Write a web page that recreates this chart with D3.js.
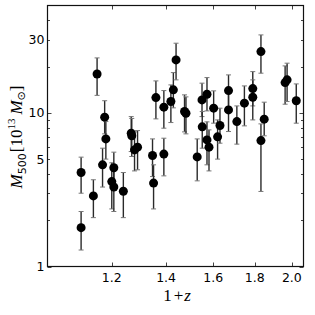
<!DOCTYPE html>
<html>
<head>
<meta charset="utf-8">
<script src="https://cdn.jsdelivr.net/npm/d3@7"></script>
<style>
html,body{margin:0;padding:0;background:#fff;}
svg{display:block;}
</style>
</head>
<body>
<div id="chart"></div>
<script>
// 1+z values
const onePlusZ = [1.100,1.100,1.139,1.151,1.169,1.176,1.180,1.200,1.207,1.207,1.240,1.268,1.270,1.280,1.291,1.347,1.351,1.360,1.391,1.391,1.419,1.429,1.440,1.475,1.481,1.529,1.550,1.551,1.572,1.572,1.581,1.602,1.620,1.631,1.671,1.671,1.711,1.748,1.790,1.790,1.832,1.832,1.849,1.962,1.973,2.025];
// M500 in 10^13 Msun
const mass = [4.09,1.79,2.88,17.9,4.59,9.38,6.77,3.57,4.39,3.29,3.09,7.38,7.09,5.74,5.98,5.28,3.49,12.58,10.89,5.39,11.85,14.12,22.13,10.20,9.95,5.17,12.15,8.11,13.23,6.67,5.98,10.73,6.98,8.27,13.97,10.46,8.78,11.57,14.39,12.65,25.05,6.60,9.10,15.74,16.40,12.0];
// lower bounds of error bars
const massLow = [3.00,1.28,2.08,13.0,3.29,7.30,5.00,2.37,3.40,2.28,2.08,5.60,5.20,4.19,4.26,3.85,2.37,9.14,7.95,3.89,8.65,10.78,16.40,7.52,7.30,3.61,9.46,5.89,10.30,4.59,4.19,8.57,5.00,6.35,10.99,7.56,6.26,8.23,11.10,9.00,18.13,3.08,7.09,11.39,11.85,8.57];
// upper bounds of error bars
const massHigh = [5.15,2.28,3.67,22.8,5.89,12.0,8.78,4.73,5.55,4.26,4.09,9.46,9.20,7.52,7.67,6.77,4.59,16.15,13.97,6.84,15.21,18.29,28.41,13.10,12.71,6.77,15.61,10.20,16.97,8.74,7.75,13.91,9.00,10.73,17.67,13.44,11.10,14.98,18.56,16.40,32.17,8.48,11.74,20.22,21.06,15.44];

const xTicks = [1.2,1.4,1.6,1.8,2.0];
const xTickLabels = ["1.2","1.4","1.6","1.8","2.0"];
const yLabelTicks = [1,5,10,30];
const yLabelText = ["1","5","10","30"];
const yMinorTicks = [2,3,4,5,6,7,8,9,20,30,40];
const yMajorTicks = [1,10];

const W = 315, H = 315;
const L = 47.5, R = 303.5, T = 5.5, B = 266.5;

const svg = d3.select("#chart").append("svg").attr("width", W).attr("height", H);

const x = d3.scaleLog().domain([1.0, 2.067]).range([L, R]);
const y = d3.scaleLog().domain([1, 50]).range([B, T]);

const data = onePlusZ.map((v, i) => ({x: v, m: mass[i], lo: massLow[i], hi: massHigh[i]}));

// ticks (inward, both sides)
const tg = svg.append("g").attr("stroke", "#444").attr("stroke-width", 1);
xTicks.forEach(t => {
  const px = Math.round(x(t)) + 0.5;
  tg.append("line").attr("x1", px).attr("x2", px).attr("y1", B).attr("y2", B - 4);
  tg.append("line").attr("x1", px).attr("x2", px).attr("y1", T).attr("y2", T + 4);
});
yMajorTicks.concat(yMinorTicks).forEach(t => {
  const len = yMajorTicks.includes(t) ? 4 : 2.5;
  const py = Math.round(y(t)) + 0.5;
  tg.append("line").attr("x1", L).attr("x2", L + len).attr("y1", py).attr("y2", py);
  tg.append("line").attr("x1", R).attr("x2", R - len).attr("y1", py).attr("y2", py);
});

// error bars
const eg = svg.append("g");
data.forEach(d => {
  const px = x(d.x);
  eg.append("line").attr("x1", px).attr("x2", px).attr("y1", y(d.lo)).attr("y2", y(d.hi))
    .attr("stroke", "#2a2a2a").attr("stroke-width", 1.4);
  [d.lo, d.hi].forEach(v => {
    eg.append("line").attr("x1", px - 2.5).attr("x2", px + 2.5).attr("y1", y(v)).attr("y2", y(v))
      .attr("stroke", "#777").attr("stroke-width", 1);
  });
});

// points
svg.append("g").selectAll("circle").data(data).join("circle")
  .attr("cx", d => x(d.x)).attr("cy", d => y(d.m)).attr("r", 4.5).attr("fill", "#000");

// frame
svg.append("rect").attr("x", L).attr("y", T).attr("width", R - L).attr("height", B - T)
  .attr("fill", "none").attr("stroke", "#111").attr("stroke-width", 1.2);

// tick labels
const font = "DejaVu Sans, sans-serif";
xTicks.forEach((t, i) => {
  svg.append("text").attr("x", x(t)).attr("y", 281.5).attr("text-anchor", "middle")
    .attr("font-family", font).attr("font-size", 12.5).attr("fill", "#000").text(xTickLabels[i]);
});
yLabelTicks.forEach((t, i) => {
  svg.append("text").attr("x", 44.5).attr("y", y(t) + 4.5).attr("text-anchor", "end")
    .attr("font-family", font).attr("font-size", 12.5).attr("fill", "#000").text(yLabelText[i]);
});

// axis labels
const serif = "Liberation Serif, DejaVu Serif, serif";
const xl = svg.append("text").attr("x", 177).attr("y", 301).attr("text-anchor", "middle")
  .attr("font-family", serif).attr("font-size", 17).attr("fill", "#000");
xl.append("tspan").text("1");
xl.append("tspan").text("+").attr("dx", 2);
xl.append("tspan").text("z").attr("font-style", "italic").attr("dx", 1);

const yl = svg.append("text").attr("transform", "translate(22,137) rotate(-90)")
  .attr("text-anchor", "middle").attr("font-family", serif).attr("font-size", 17).attr("fill", "#000");
yl.append("tspan").text("M").attr("font-style", "italic");
yl.append("tspan").text("500").attr("font-size", 11).attr("dy", 4).attr("font-family", font);
yl.append("tspan").text("[10").attr("dy", -4).attr("dx", 1);
yl.append("tspan").text("13").attr("font-size", 11).attr("dy", -7);
yl.append("tspan").text("M").attr("font-style", "italic").attr("dy", 7).attr("dx", 4);
yl.append("tspan").text("\u2299").attr("font-size", 11).attr("dy", 3).attr("font-family", "DejaVu Sans, sans-serif");
yl.append("tspan").text("]").attr("dy", -3);
</script>
</body>
</html>
